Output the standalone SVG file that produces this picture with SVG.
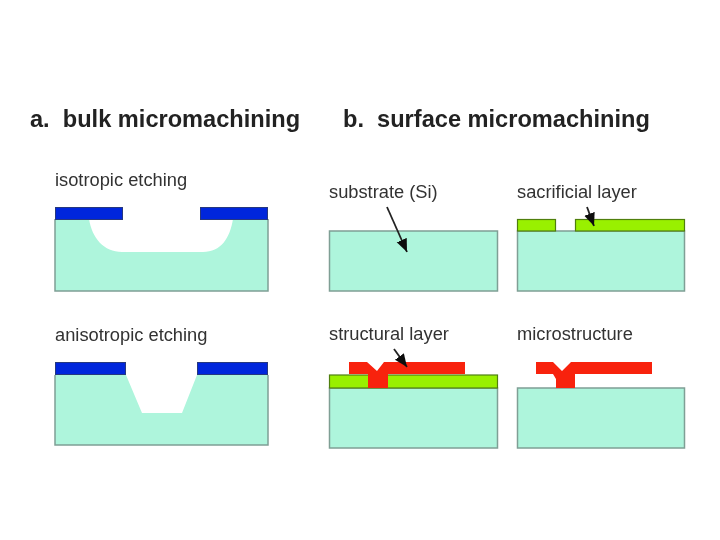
<svg xmlns="http://www.w3.org/2000/svg" width="720" height="540" viewBox="0 0 720 540">
<style>
text{font-family:"Liberation Sans",Arial,sans-serif;white-space:pre}
.h{font-size:23.600px;font-weight:700;fill:#222}
.l{font-size:18.300px;fill:#333}
.s{fill:#aef5dc}
.e{fill:none;stroke:#7f9f95;stroke-width:1.5}
.m{fill:#0626dc;stroke:#26387f;stroke-width:1}
.g{fill:#99f000;stroke:#4f7f10;stroke-width:1.2}
.r{fill:#f82010}
.a{fill:none;stroke:#222;stroke-width:1.800;marker-end:url(#ah)}
</style>
<defs>
<marker id="ah" markerUnits="userSpaceOnUse" markerWidth="15" markerHeight="12" refX="13" refY="5.500" orient="auto"><path d="M0 0L13 5.500L0 11Z" fill="#111"/></marker>
<filter id="b" x="-5%" y="-5%" width="110%" height="110%"><feGaussianBlur stdDeviation="0.45"/></filter>
</defs>
<rect width="720" height="540" fill="#fff"/>
<g filter="url(#b)">
<g id="title-a"><text class="h" x="30" y="127">a.  bulk micromachining</text></g>
<g id="title-b"><text class="h" x="343" y="127">b.  surface micromachining</text></g>
<g id="isotropic">
<text class="l" x="55" y="186">isotropic etching</text>
<path class="s" d="M55 219H89C92 238 104 252 122 252H203C221 252 230 238 233 219H268V291H55Z"/>
<path class="e" d="M55 219V291H268V219"/>
<rect class="m" x="55.500" y="207.500" width="67" height="12"/>
<rect class="m" x="200.500" y="207.500" width="67" height="12"/>
</g>
<g id="anisotropic">
<text class="l" x="55" y="341">anisotropic etching</text>
<path class="s" d="M55 375H126L142 413H182L197 375H268V445H55Z"/>
<path class="e" d="M55 375V445H268V375"/>
<rect class="m" x="55.500" y="362.500" width="70" height="12"/>
<rect class="m" x="197.500" y="362.500" width="70" height="12"/>
</g>
<g id="substrate">
<text class="l" x="329" y="198">substrate (Si)</text>
<rect class="s" x="329.500" y="231" width="168" height="60"/>
<rect class="e" x="329.500" y="231" width="168" height="60"/>
</g>
<g id="sacrificial">
<text class="l" x="517" y="198">sacrificial layer</text>
<rect class="s" x="517.500" y="231" width="167" height="60"/>
<rect class="e" x="517.500" y="231" width="167" height="60"/>
<rect class="g" x="517.500" y="219.500" width="38" height="11.500"/>
<rect class="g" x="575.500" y="219.500" width="109" height="11.500"/>
</g>
<g id="structural">
<text class="l" x="329" y="340">structural layer</text>
<rect class="s" x="329.500" y="388" width="168" height="60"/>
<rect class="e" x="329.500" y="388" width="168" height="60"/>
<rect class="g" x="329.500" y="375" width="168" height="13"/>
<path class="r" d="M349 362H367L377 371L384 362H465V374H388V388H368V374H349Z"/>
</g>
<g id="microstructure">
<text class="l" x="517" y="340">microstructure</text>
<rect class="s" x="517.500" y="388" width="167" height="60"/>
<rect class="e" x="517.500" y="388" width="167" height="60"/>
<path class="r" d="M536 362H553L562 371L571 362H652V374H575V388H556V379L553 374H536Z"/>
</g>
<g id="connectors">
<path class="a" d="M387 207L407 252"/>
<path class="a" d="M587 207L594 226"/>
<path class="a" d="M394 349L407 367"/>
</g>
</g>
</svg>
